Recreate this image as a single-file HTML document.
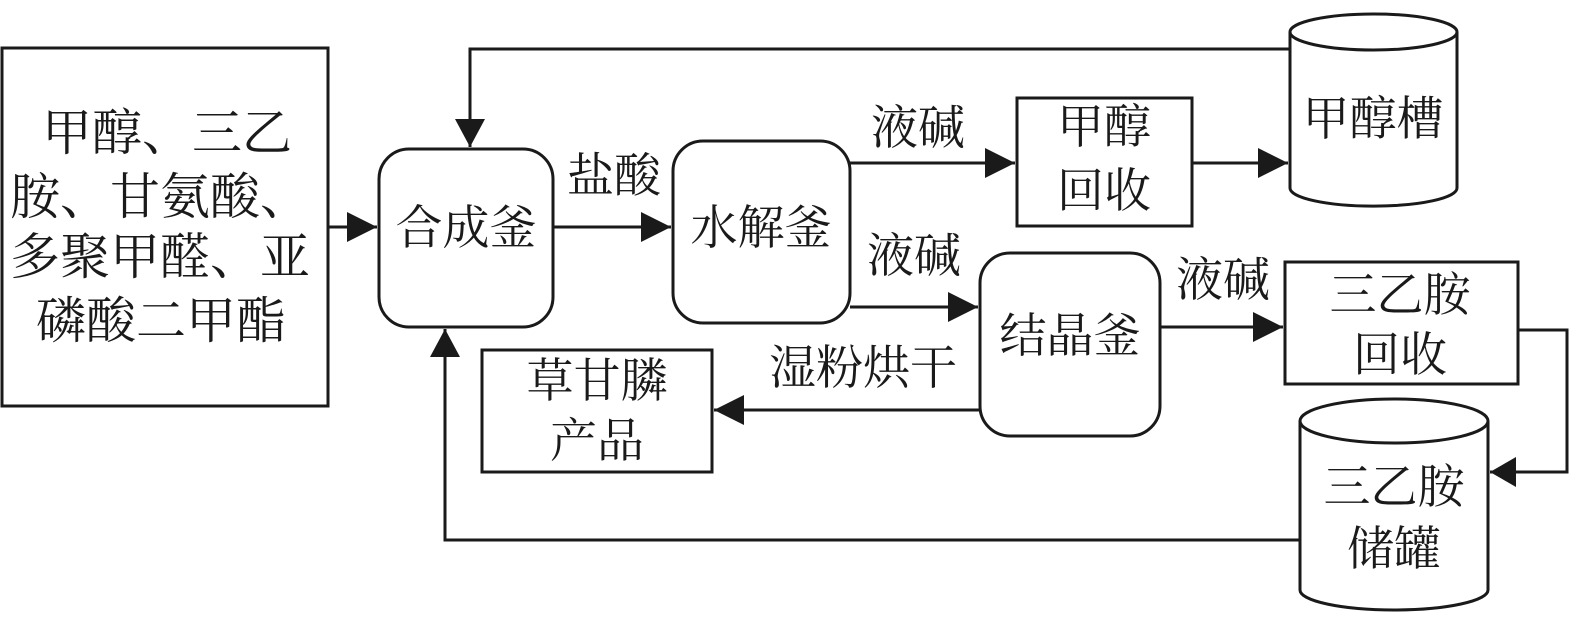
<!DOCTYPE html>
<html><head><meta charset="utf-8"><style>html,body{margin:0;padding:0;background:#fff}svg{display:block}text{font-family:"Liberation Serif","Noto Serif CJK SC","Noto Sans CJK SC",serif;fill:#1a1a1a;dominant-baseline:central}</style></head><body>
<svg width="1575" height="630" viewBox="0 0 1575 630" xmlns="http://www.w3.org/2000/svg">
<defs><marker id="a" markerWidth="10" markerHeight="10" refX="10" refY="5" orient="auto" markerUnits="userSpaceOnUse" viewBox="0 0 10 10"><path d="M0,0 L10,5 L0,10z" fill="#1a1a1a"/></marker></defs>
<g fill="none" stroke="#1a1a1a" stroke-width="3">
<rect x="2" y="48" width="326" height="358"/>
<rect x="379" y="149" width="174" height="178" rx="30"/>
<rect x="673" y="141" width="177" height="182" rx="30"/>
<rect x="980" y="253" width="180" height="183" rx="30"/>
<rect x="1017" y="98" width="175" height="128"/>
<rect x="1285" y="262" width="233" height="122"/>
<rect x="482" y="350" width="230" height="122"/>
<path d="M1290,32 V188 A83,18 0 0 0 1457,188 V32"/>
<ellipse cx="1373.5" cy="32" rx="83.5" ry="18"/>
<path d="M1300,421 V590 A94,20 0 0 0 1488,590 V421"/>
<ellipse cx="1394" cy="421" rx="94" ry="22"/>
</g>
<g stroke="#1a1a1a" stroke-width="3" fill="none">
<line x1="328" y1="227" x2="377" y2="227"/>
<line x1="553" y1="227" x2="671" y2="227"/>
<line x1="850" y1="163" x2="1015" y2="163"/>
<line x1="1192" y1="163" x2="1288" y2="163"/>
<polyline points="1290,49 470,49 470,147"/>
<line x1="850" y1="307" x2="978" y2="307"/>
<line x1="1160" y1="327" x2="1283" y2="327"/>
<polyline points="1518,330 1567,330 1567,472 1490,472"/>
<line x1="980" y1="410" x2="714" y2="410"/>
<polyline points="1300,540 445,540 445,329"/>
</g>
<g fill="#1a1a1a">
<path d="M347,212 L377,227 L347,242z"/>
<path d="M641,212 L671,227 L641,242z"/>
<path d="M985,148 L1015,163 L985,178z"/>
<path d="M1258,148 L1288,163 L1258,178z"/>
<path d="M455,119 L470,147 L485,119z"/>
<path d="M948,292 L978,307 L948,322z"/>
<path d="M1253,312 L1283,327 L1253,342z"/>
<path d="M1516,457 L1490,472 L1516,487z"/>
<path d="M744,395 L714,410 L744,425z"/>
<path d="M430,357 L445,329 L460,357z"/>
</g>
<g font-size="50">
<text x="42" y="133">甲醇、三乙</text>
<text x="10" y="197">胺、甘氨酸、</text>
<text x="10" y="257">多聚甲醛、亚</text>
<text x="36" y="321">磷酸二甲酯</text>
</g>
<g font-size="47" text-anchor="middle">
<text x="466" y="229">合成釜</text>
<text x="761" y="229">水解釜</text>
<text x="1070" y="337">结晶釜</text>
<text x="1104" y="128">甲醇</text>
<text x="1104" y="192">回收</text>
<text x="1400" y="296">三乙胺</text>
<text x="1400" y="356">回收</text>
<text x="1373" y="120">甲醇槽</text>
<text x="1394" y="488">三乙胺</text>
<text x="1394" y="550">储罐</text>
<text x="597" y="382">草甘膦</text>
<text x="597" y="442">产品</text>
<text x="614" y="177">盐酸</text>
<text x="918" y="129">液碱</text>
<text x="914" y="257">液碱</text>
<text x="1223" y="281">液碱</text>
<text x="863" y="369">湿粉烘干</text>
</g>
</svg>
</body></html>
